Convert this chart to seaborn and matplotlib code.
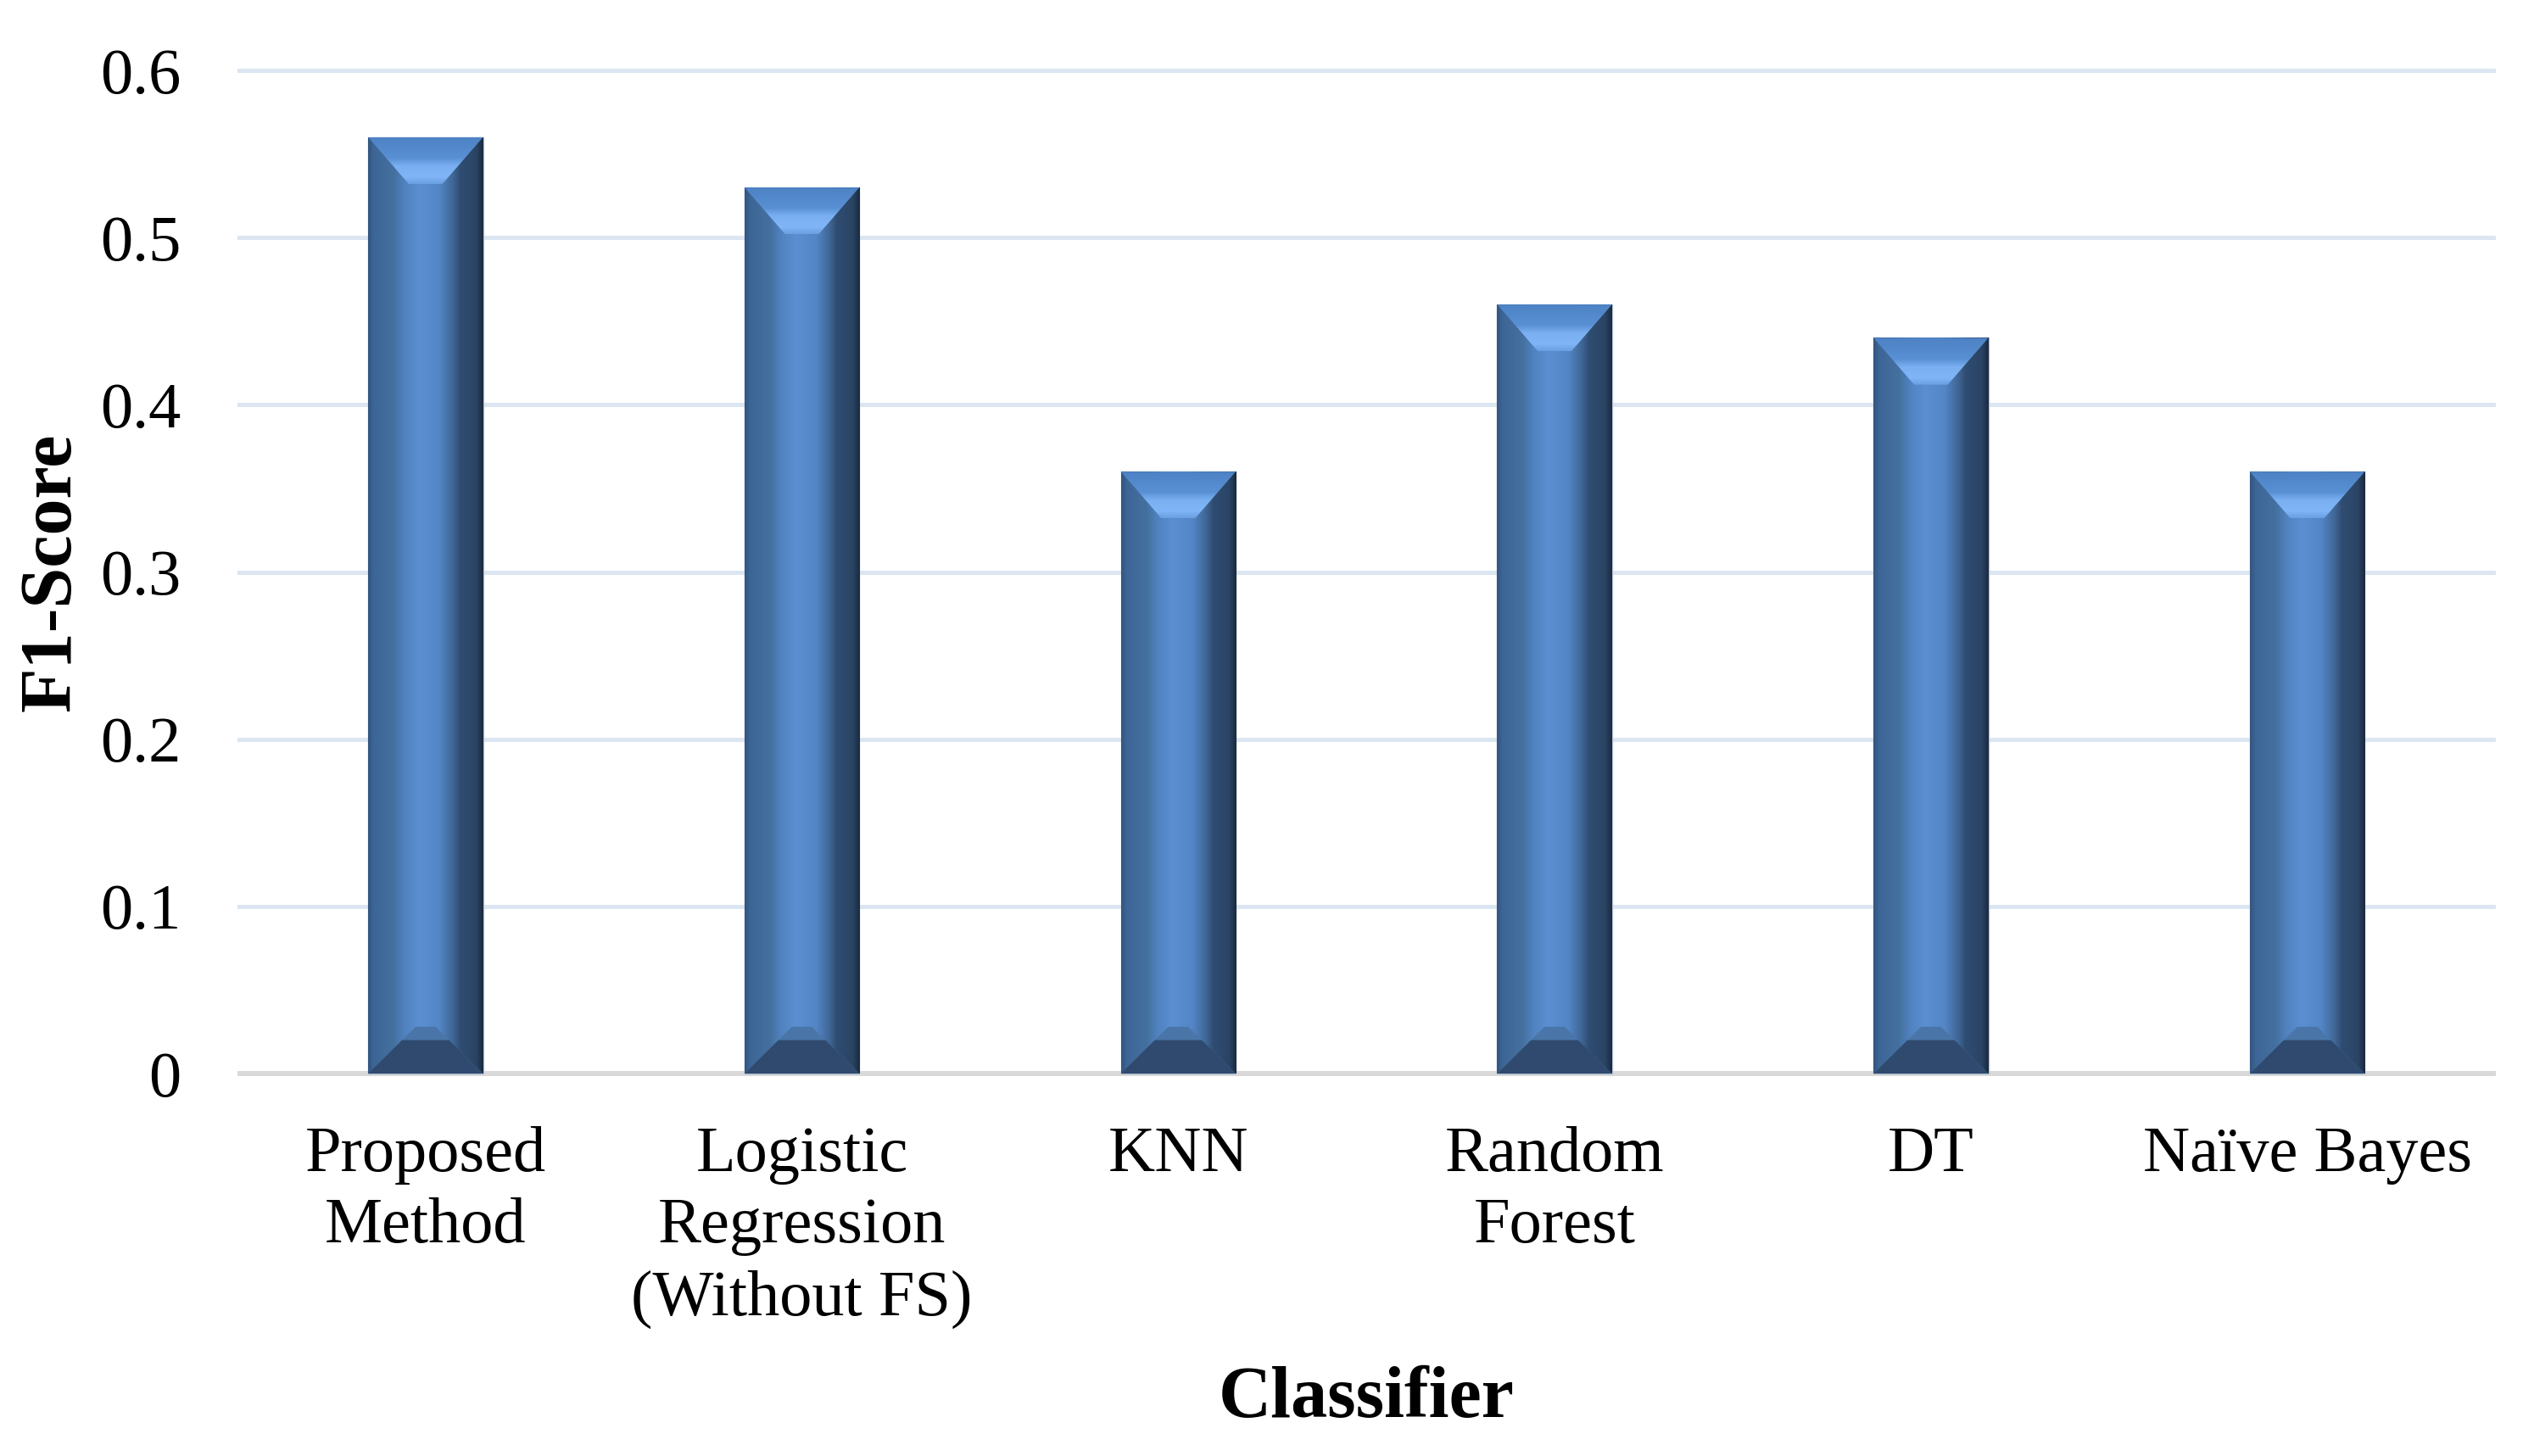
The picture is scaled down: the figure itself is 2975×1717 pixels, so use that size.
"""F1-Score by classifier, bevelled bar chart."""

import matplotlib
matplotlib.use('Agg')
import matplotlib.pyplot as plt
import numpy as np
import seaborn as sns
from matplotlib.colors import LinearSegmentedColormap
from matplotlib.patches import Polygon

classifiers = ['Proposed\nMethod', 'Logistic\nRegression\n(Without FS)', 'KNN',
               'Random\nForest', 'DT', 'Naïve Bayes']
f1_scores = [0.56, 0.53, 0.36, 0.46, 0.44, 0.36]
y_ticks = [0, 0.1, 0.2, 0.3, 0.4, 0.5, 0.6]
y_tick_labels = ['0', '0.1', '0.2', '0.3', '0.4', '0.5', '0.6']

sns.set_theme(style='white')
plt.rcParams['font.family'] = ['Liberation Serif', 'DejaVu Serif']

side_cmap = LinearSegmentedColormap.from_list('side', [
    (0.00, '#33557f'),
    (0.05, '#3d6696'),
    (0.22, '#44709f'),
    (0.32, '#5183c0'),
    (0.45, '#5b8fd2'),
    (0.62, '#5386c5'),
    (0.74, '#3f6694'),
    (0.80, '#2f4d72'),
    (0.94, '#2a4464'),
    (1.00, '#1a2a40'),
])

top_cmap = LinearSegmentedColormap.from_list('top', [
    (0.00, '#4d82c4'),
    (0.45, '#5990d4'),
    (0.62, '#7ab0f2'),
    (0.85, '#80b6f8'),
    (1.00, '#6a9fe2'),
])

fig = plt.figure(figsize=(29.75, 17.17), dpi=100)
ax = fig.add_axes([0.0941, 0.2592, 0.8950, 0.6959])

sns.barplot(x=classifiers, y=f1_scores, color='#4a7ab5', width=0.305,
            edgecolor='#b4c2d3', linewidth=1.0, ax=ax, zorder=3)

# bevel sizes in data units
bx_top, by_top = 0.108, 0.028
bx_bot, by_bot = 0.09, 0.02

for patch in list(ax.patches):
    x0 = patch.get_x()
    w = patch.get_width()
    h = patch.get_height()
    x1 = x0 + w
    grad = np.linspace(0, 1, 256).reshape(1, -1)
    im = ax.imshow(grad, cmap=side_cmap, extent=(x0, x1, 0, h), aspect='auto',
                   zorder=4, interpolation='bilinear')
    im.set_clip_path(patch)
    # top bevel with vertical gradient (darker at the top edge, light band below)
    top = Polygon([(x0, h), (x1, h), (x1 - bx_top, h - by_top), (x0 + bx_top, h - by_top)],
                  closed=True, facecolor='none', edgecolor='none', zorder=5)
    ax.add_patch(top)
    vgrad = np.linspace(0, 1, 128).reshape(-1, 1)
    im2 = ax.imshow(vgrad, cmap=top_cmap, extent=(x0, x1, h - by_top, h), origin='upper',
                    aspect='auto', zorder=5, interpolation='bilinear')
    im2.set_clip_path(top)
    # bottom bevel
    ax.add_patch(Polygon([(x0, 0), (x1, 0), (x1 - bx_bot * 1.4, by_bot * 1.4),
                          (x0 + bx_bot * 1.4, by_bot * 1.4)],
                         closed=True, facecolor='#4a75a8', edgecolor='none', zorder=5))
    ax.add_patch(Polygon([(x0, 0), (x1, 0), (x1 - bx_bot, by_bot), (x0 + bx_bot, by_bot)],
                         closed=True, facecolor='#2f4a6e', edgecolor='none', zorder=6))

ax.set_xlim(-0.5, len(classifiers) - 0.5)
ax.set_ylim(-0.003, 0.603)
ax.set_yticks(y_ticks)
ax.set_yticklabels(y_tick_labels)

ax.grid(axis='y', color='#dce6f2', linewidth=3.6, zorder=0)
ax.grid(axis='x', visible=False)
ax.set_axisbelow(True)
ax.axhline(0, color='#d9d9d9', linewidth=4.3, zorder=2)
sns.despine(ax=ax, left=True, bottom=True)

ax.tick_params(axis='y', length=0, pad=48, labelsize=55, labelcolor='black')
ax.tick_params(axis='x', length=0, pad=40, labelsize=55, labelcolor='black')
for lbl in ax.get_xticklabels():
    lbl.set_linespacing(1.3)

ax.set_xlabel('Classifier', fontsize=62, fontweight='bold', color='black', labelpad=32)
ax.set_ylabel('F1-Score', fontsize=62, fontweight='bold', color='black', labelpad=12)

fig.savefig('out.png', dpi=100)
